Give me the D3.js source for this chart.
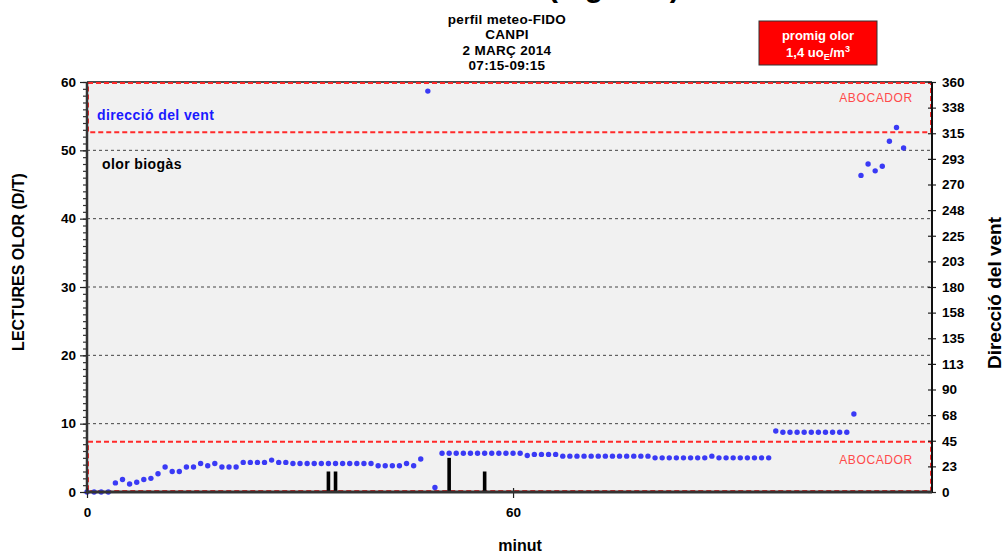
<!DOCTYPE html>
<html>
<head>
<meta charset="utf-8">
<script src="https://cdn.jsdelivr.net/npm/d3@7"></script>
<style>
  html, body { margin: 0; padding: 0; background: #fff; }
  svg { display: block; }
  text { font-family: "Liberation Sans", Arial, sans-serif; }
</style>
</head>
<body>
<svg id="chart" width="1006" height="554"></svg>
<script>
// Wind direction (degrees), one reading per minute starting at minute 0
const windDirection = [
  0, 0, 0, 0, 8, 11, 7, 8.5, 11, 12,
  16, 22, 18, 18, 22, 22, 25, 23, 25, 22,
  22, 22, 26, 26, 26, 26, 28, 26, 26, 25,
  25, 25, 25, 25, 25, 25, 25, 25, 25, 25,
  25, 23, 23, 23, 23, 25, 23, 29, 352, 4,
  34, 34, 34, 34, 34, 34, 34, 34, 34, 34,
  34, 34, 32, 33, 33, 33, 33, 31.5, 31.5, 31.5,
  31.5, 31.5, 31.5, 31.5, 31.5, 31.5, 31.5, 31.5, 31.5, 31.5,
  30, 30, 30, 30, 30, 30, 30, 30, 31.5, 30,
  30, 30, 30, 30, 30, 30, 30, 53.5, 52.5, 52.5,
  52.5, 52.5, 52.5, 52.5, 52.5, 52.5, 52.5, 52.5, 68.5, 278,
  288, 282, 286, 308, 320, 302
];

// Odour readings (D/T) recorded by the field panel
const odourMinutes = [34, 35, 51, 56];
const odourValues = [3, 3, 5, 3];

// Axis ticks
const leftTicks = [0, 10, 20, 30, 40, 50, 60];
const gridValues = [10, 20, 30, 40, 50];
const rightTickValues = [0, 22.5, 45, 67.5, 90, 112.5, 135, 157.5, 180, 202.5, 225, 247.5, 270, 292.5, 315, 337.5, 360];
const rightTickLabels = ["0", "23", "45", "68", "90", "113", "135", "158", "180", "203", "225", "248", "270", "293", "315", "338", "360"];
const xTicks = [0, 60];

// Landfill sectors of wind direction (degrees)
const landfillSectors = [[315, 360], [0, 45]];

const titleLines = ["perfil meteo-FIDO", "CANPI", "2 MARÇ 2014", "07:15-09:15"];

const svg = d3.select("#chart");
const plot = { left: 87, right: 932, top: 82, bottom: 492 };

const x = d3.scaleLinear().domain([0, 119]).range([plot.left, plot.right]);
const yOdour = d3.scaleLinear().domain([0, 60]).range([plot.bottom, plot.top]);
const yWind = d3.scaleLinear().domain([0, 360]).range([plot.bottom, plot.top]);

// Plot background
svg.append("rect")
  .attr("x", plot.left).attr("y", plot.top)
  .attr("width", plot.right - plot.left).attr("height", plot.bottom - plot.top)
  .attr("fill", "#f1f1f1");

// Heading running off the top edge
svg.append("text")
  .attr("x", 548).attr("y", -3)
  .attr("font-size", 30).attr("font-weight", "bold")
  .attr("fill", "#000")
  .text("(mg/Nm³)");

// Horizontal grid lines
svg.append("g").selectAll("line").data(gridValues).join("line")
  .attr("x1", plot.left).attr("x2", plot.right)
  .attr("y1", d => yOdour(d)).attr("y2", d => yOdour(d))
  .attr("stroke", "#444").attr("stroke-width", 1)
  .attr("stroke-dasharray", "3,3");

// Top border
svg.append("line")
  .attr("x1", plot.left).attr("x2", plot.right)
  .attr("y1", plot.top).attr("y2", plot.top)
  .attr("stroke", "#111").attr("stroke-width", 1.5);

// Landfill sectors as red dashed boxes
svg.append("g").selectAll("rect").data(landfillSectors).join("rect")
  .attr("x", plot.left + 1)
  .attr("y", d => yWind(d[1]) + 1)
  .attr("width", plot.right - plot.left - 2)
  .attr("height", d => yWind(d[0]) - yWind(d[1]) - 2)
  .attr("fill", "none")
  .attr("stroke", "#ff2a2a").attr("stroke-width", 2)
  .attr("stroke-dasharray", "5,3");

svg.append("g").selectAll("text").data(landfillSectors).join("text")
  .attr("x", 876)
  .attr("y", d => (yWind(d[0]) + yWind(d[1])) / 2 + (d[1] === 360 ? -8.5 : -6))
  .attr("text-anchor", "middle")
  .attr("dominant-baseline", "middle")
  .attr("font-size", 12).attr("letter-spacing", 0.6)
  .attr("fill", "#ff4a4a")
  .text("ABOCADOR");

// Odour bars
svg.append("g").selectAll("rect").data(odourMinutes).join("rect")
  .attr("x", d => x(d) - 1.8)
  .attr("y", (d, i) => yOdour(odourValues[i]))
  .attr("width", 3.6)
  .attr("height", (d, i) => yOdour(0) - yOdour(odourValues[i]))
  .attr("fill", "#000");

// Wind direction points
svg.append("g").selectAll("circle").data(windDirection).join("circle")
  .attr("cx", (d, i) => x(i))
  .attr("cy", d => yWind(d))
  .attr("r", 2.7)
  .attr("fill", "#3a3af5");

// Left axis
const leftAxis = svg.append("g").attr("transform", `translate(${plot.left},0)`);
leftAxis.call(d3.axisLeft(yOdour).tickValues(d3.range(0, 61, 1)).tickSize(4).tickFormat(""))
  .call(g => g.select(".domain").remove())
  .call(g => g.selectAll(".tick line").attr("stroke", "#333").attr("stroke-width", 1.2));
leftAxis.append("g")
  .call(d3.axisLeft(yOdour).tickValues(leftTicks).tickSize(7).tickPadding(4).tickFormat(d3.format("d")))
  .call(g => g.select(".domain").remove())
  .call(g => g.selectAll(".tick line").attr("stroke", "#222").attr("stroke-width", 1.2))
  .call(g => g.selectAll(".tick text")
    .attr("font-size", 13.5).attr("font-weight", "bold").attr("fill", "#000")
    .attr("font-family", "'Liberation Sans', Arial, sans-serif"));
leftAxis.append("line")
  .attr("y1", plot.top).attr("y2", plot.bottom + 1)
  .attr("stroke", "#333").attr("stroke-width", 2.5);

// Right axis
const rightAxis = svg.append("g").attr("transform", `translate(${plot.right},0)`);
rightAxis.call(d3.axisRight(yWind).tickValues(rightTickValues).tickSize(4).tickPadding(6)
    .tickFormat((d, i) => rightTickLabels[i]))
  .call(g => g.select(".domain").remove())
  .call(g => g.selectAll(".tick line").attr("x1", -4).attr("stroke", "#222").attr("stroke-width", 1.2))
  .call(g => g.selectAll(".tick text")
    .attr("font-size", 13.5).attr("font-weight", "bold").attr("fill", "#000")
    .attr("font-family", "'Liberation Sans', Arial, sans-serif"));
rightAxis.append("line")
  .attr("y1", plot.top).attr("y2", plot.bottom + 1)
  .attr("stroke", "#111").attr("stroke-width", 2);

// Bottom axis
const bottomAxis = svg.append("g").attr("transform", `translate(0,${plot.bottom})`);
bottomAxis.call(d3.axisBottom(x).tickValues(xTicks).tickSize(6).tickPadding(9).tickFormat(d3.format("d")))
  .call(g => g.select(".domain").remove())
  .call(g => g.selectAll(".tick line").attr("y1", -4).attr("stroke", "#222").attr("stroke-width", 1.2))
  .call(g => g.selectAll(".tick text")
    .attr("font-size", 13.5).attr("font-weight", "bold").attr("fill", "#000")
    .attr("font-family", "'Liberation Sans', Arial, sans-serif"));
bottomAxis.append("line")
  .attr("x1", plot.left - 1).attr("x2", plot.right)
  .attr("stroke", "#333").attr("stroke-width", 3);

// Axis titles
svg.append("text")
  .attr("transform", `translate(24,262) rotate(-90)`)
  .attr("text-anchor", "middle")
  .attr("font-size", 16).attr("font-weight", "bold").attr("fill", "#000")
  .text("LECTURES OLOR (D/T)");

svg.append("text")
  .attr("transform", `translate(1001,293) rotate(-90)`)
  .attr("text-anchor", "middle")
  .attr("font-size", 19).attr("font-weight", "bold").attr("fill", "#000")
  .text("Direcció del vent");

svg.append("text")
  .attr("x", 520).attr("y", 551)
  .attr("text-anchor", "middle")
  .attr("font-size", 16).attr("font-weight", "bold").attr("fill", "#000")
  .text("minut");

// In-plot labels
svg.append("text")
  .attr("x", 97).attr("y", 120)
  .attr("font-size", 14).attr("font-weight", "bold").attr("fill", "#1a1aff")
  .attr("letter-spacing", 0.4)
  .text("direcció del vent");

svg.append("text")
  .attr("x", 102).attr("y", 169)
  .attr("font-size", 14).attr("font-weight", "bold").attr("fill", "#000")
  .attr("letter-spacing", 0.4)
  .text("olor biogàs");

// Subtitle block
svg.append("g").selectAll("text").data(titleLines).join("text")
  .attr("x", 507)
  .attr("y", (d, i) => 24 + i * 15.3)
  .attr("text-anchor", "middle")
  .attr("font-size", 13.5).attr("font-weight", "bold").attr("fill", "#000")
  .attr("letter-spacing", 0.3)
  .text(d => d);

// Average odour box
const box = svg.append("g");
box.append("rect")
  .attr("x", 759).attr("y", 21).attr("width", 118).attr("height", 44)
  .attr("fill", "#ff0000").attr("stroke", "#333").attr("stroke-width", 1);
box.append("text")
  .attr("x", 818).attr("y", 40)
  .attr("text-anchor", "middle")
  .attr("font-size", 13).attr("font-weight", "bold").attr("fill", "#fff")
  .text("promig olor");
const line2 = box.append("text")
  .attr("x", 818).attr("y", 57)
  .attr("text-anchor", "middle")
  .attr("font-size", 13).attr("font-weight", "bold").attr("fill", "#fff");
line2.append("tspan").text("1,4 uo");
line2.append("tspan").attr("font-size", 9).attr("dy", 3).text("E");
line2.append("tspan").attr("dy", -3).text("/m");
line2.append("tspan").attr("font-size", 9).attr("dy", -5).text("3");
</script>
</body>
</html>
